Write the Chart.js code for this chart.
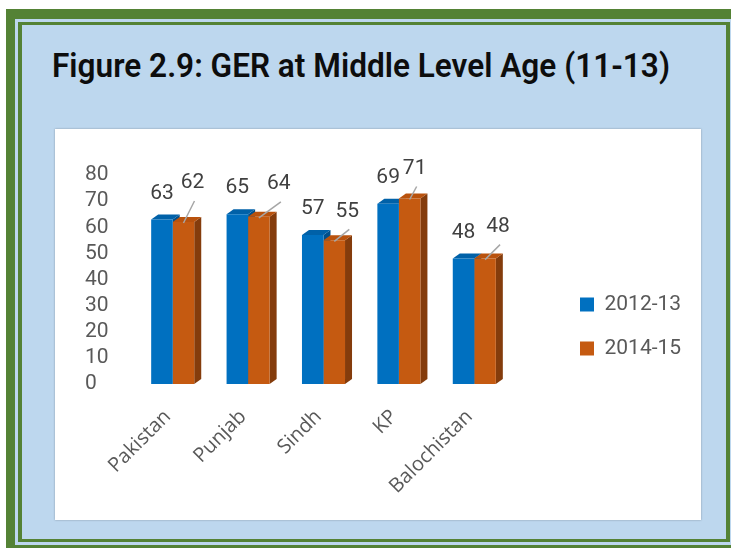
<!DOCTYPE html>
<html>
<head>
<meta charset="utf-8">
<script src="https://cdn.jsdelivr.net/npm/chart.js@4/dist/chart.umd.min.js"></script>
<style>
  html, body { margin: 0; padding: 0; background: #fff; }
  body { width: 731px; height: 548px; position: relative; overflow: hidden; }
  .frame { position: absolute; left: 6px; top: 9px; width: 760px; height: 560px; background: #548235; }
  .inner { position: absolute; left: 15px; top: 19px; width: 718px; height: 526px; background: #bdd7ee; padding: 3px; box-sizing: border-box; }
  .fill { width: 100%; height: 100%; box-sizing: border-box; border: solid #548235; border-width: 3px 4px 3px 4px; background: #bdd7ee; }
  .title { position: absolute; left: 52px; top: 45px; margin: 0; font: 600 34px Roboto, sans-serif; color: #0d0d0d; white-space: nowrap; transform-origin: 0 0; }
  .panel { position: absolute; left: 55px; top: 129px; width: 646px; height: 391px; background: #fff; box-shadow: 0 0 2px rgba(0,0,0,0.3); }
</style>
</head>
<body>
<div class="frame"></div>
<div class="inner"><div class="fill"></div></div>
<h1 class="title" id="title">Figure 2.9: GER at Middle Level Age (11-13)</h1>
<div class="panel"><canvas id="chart"></canvas></div>

<script>
// values
const categories = ["Pakistan", "Punjab", "Sindh", "KP", "Balochistan"];
const seriesNames = ["2012-13", "2014-15"];
const ger1213 = [63, 65, 57, 69, 48];
const ger1415 = [62, 64, 55, 71, 48];
const yMin = 0, yMax = 80, yStep = 10;

// where excel pushed the 2014-15 labels (px from bar centre / bar top)
const nudgeX = [9, 20, 13, 5, 13];
const nudgeY = [-39, -33, -29, -30, -32];

// title should span about 618px
const t = document.getElementById("title");
t.style.transform = "scaleX(" + (618 / t.getBoundingClientRect().width) + ")";

const depthX = 7, depthY = 5;

// fake 3d: top and side faces for each bar
const faces = {
  id: "faces",
  beforeDatasetsDraw(chart) {
    const ctx = chart.ctx;
    chart.data.datasets.forEach((ds, i) => {
      chart.getDatasetMeta(i).data.forEach(bar => {
        const p = bar.getProps(["x", "y", "base", "width"], true);
        const l = p.x - p.width / 2, r = p.x + p.width / 2;
        ctx.save();
        ctx.fillStyle = ds.sideColor;
        ctx.beginPath();
        ctx.moveTo(r, p.y);
        ctx.lineTo(r + depthX, p.y - depthY);
        ctx.lineTo(r + depthX, p.base - depthY);
        ctx.lineTo(r, p.base);
        ctx.closePath();
        ctx.fill();
        ctx.fillStyle = ds.topColor;
        ctx.beginPath();
        ctx.moveTo(l, p.y);
        ctx.lineTo(l + depthX, p.y - depthY);
        ctx.lineTo(r + depthX, p.y - depthY);
        ctx.lineTo(r, p.y);
        ctx.closePath();
        ctx.fill();
        ctx.restore();
      });
    });
  }
};

// value labels, with leader lines on the second series
const valueLabels = {
  id: "valueLabels",
  afterDatasetsDraw(chart) {
    const ctx = chart.ctx;
    ctx.save();
    ctx.font = "21px Roboto";
    ctx.textAlign = "center";
    ctx.textBaseline = "middle";
    chart.data.datasets.forEach((ds, i) => {
      chart.getDatasetMeta(i).data.forEach((bar, j) => {
        const p = bar.getProps(["x", "y"], true);
        if (i === 0) {
          ctx.fillStyle = "#404040";
          ctx.fillText(ds.data[j], p.x, p.y - 26);
        } else {
          const lx = p.x + nudgeX[j], ly = p.y + nudgeY[j];
          ctx.strokeStyle = "#a6a6a6";
          ctx.lineWidth = 1.5;
          ctx.beginPath();
          ctx.moveTo(lx + 2, ly + 18);
          ctx.lineTo(p.x, p.y + 1);
          ctx.stroke();
          ctx.fillStyle = "#404040";
          ctx.fillText(ds.data[j], lx, ly);
        }
      });
    });
    ctx.restore();
  }
};

// keep a gap between the plot and the legend
const legendSpot = {
  id: "legendSpot",
  beforeInit(chart) {
    const fit = chart.legend.fit;
    chart.legend.fit = function () { fit.call(this); this.width = 189; };
  },
  afterLayout(chart) {
    const lg = chart.legend;
    lg.left = chart.chartArea.right + 45;
    lg.right = lg.left + lg.width;
    lg.top -= 21;
    lg.bottom -= 21;
  }
};

new Chart(document.getElementById("chart"), {
  type: "bar",
  data: {
    labels: categories,
    datasets: [
      { label: seriesNames[0], data: ger1213, backgroundColor: "#0070c0", topColor: "#0061a8", sideColor: "#004f8a" },
      { label: seriesNames[1], data: ger1415, backgroundColor: "#c55a11", topColor: "#b9520d", sideColor: "#843c0c" }
    ]
  },
  options: {
    responsive: true,
    maintainAspectRatio: false,
    animation: false,
    devicePixelRatio: 1,
    layout: { padding: { left: 30, top: 46, right: 0, bottom: 0 } },
    datasets: { bar: { categoryPercentage: 0.571, barPercentage: 1.0 } },
    plugins: {
      tooltip: { enabled: false },
      legend: {
        position: "right",
        labels: { boxWidth: 14, boxHeight: 14, padding: 23, color: "#595959", font: { family: "Roboto", size: 21 } }
      }
    },
    scales: {
      x: {
        grid: { display: false },
        border: { display: false },
        ticks: { autoSkip: false, minRotation: 45, maxRotation: 45, padding: 13, labelOffset: -5, color: "#595959", font: { family: "Open Sans", size: 20 } },
        afterFit(scale) { scale.height = 136; }
      },
      y: {
        min: yMin, max: yMax,
        grid: { display: false, drawTicks: false },
        border: { display: false },
        ticks: { stepSize: yStep, autoSkip: false, crossAlign: "far", color: "#595959", font: { family: "Roboto", size: 21 } },
        afterFit(scale) { scale.width = 50; }
      }
    }
  },
  plugins: [faces, valueLabels, legendSpot]
});
</script>
</body>
</html>
